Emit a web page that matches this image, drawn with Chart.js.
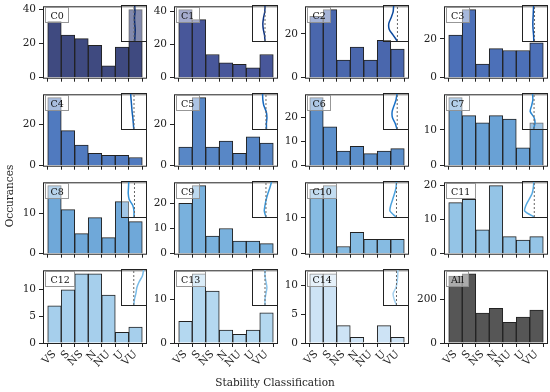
<!DOCTYPE html>
<html>
<head>
<meta charset="utf-8">
<script src="https://cdn.jsdelivr.net/npm/chart.js"></script>
<style>
  body { margin: 0; background: #fff; }
  #fig { position: relative; width: 550px; height: 392px; overflow: hidden; font-family: "DejaVu Serif", serif; color: #222; }
  .panel, .inset, .tag, .lab { position: absolute; }
  .inset { box-sizing: border-box; border: 1px solid #222; background: rgba(255,255,255,0.35); }
  .inset canvas { display: block; }
  .tag { font-size: 9.5px; line-height: 9px; padding: 2.5px 4.5px; background: rgba(255,255,255,0.5); border: 1px solid rgba(140,140,140,0.9); color: #111; }
  .lab { font-size: 10.5px; white-space: nowrap; transform: translate(-50%, -50%); }
</style>
</head>
<body>
<div id="fig"></div>
<script>
// histogram counts per cluster
const categories = ['VS', 'S', 'NS', 'N', 'NU', 'U', 'VU'];
const c0  = [33, 25, 23, 19, 7, 18, 40];
const c1  = [41, 35, 14, 9, 8, 6, 14];
const c2  = [28, 31, 8, 14, 8, 17, 13];
const c3  = [22, 35, 7, 15, 14, 14, 18];
const c4  = [33, 17, 10, 6, 5, 5, 4];
const c5  = [9, 33, 9, 12, 6, 14, 11];
const c6  = [28, 16, 6, 8, 5, 6, 7];
const c7  = [19, 14, 12, 14, 13, 5, 12];
const c8  = [17, 11, 5, 9, 4, 13, 8];
const c9  = [20, 27, 7, 10, 5, 5, 4];
const c10 = [18, 19, 2, 6, 4, 4, 4];
const c11 = [15, 16, 7, 20, 5, 4, 5];
const c12 = [7, 10, 13, 13, 9, 2, 3];
const c13 = [5, 16, 12, 3, 2, 3, 7];
const c14 = [12, 12, 3, 1, 0, 3, 1];
const all = [307, 318, 137, 159, 95, 119, 151];

// y tick values per panel
const yTicks = [[0,20,40],[0,20,40],[0,20],[0,20],[0,20],[0,20],[0,10,20],[0,10],
                [0,10],[0,10,20],[0,10],[0,10,20],[0,5,10],[0,10],[0,5,10],[0,200]];

// inset profiles: x position (0-1) at each level, top to bottom
const levels = [1, 0.83, 0.67, 0.5, 0.33, 0.17, 0];
const prof = [
  [0.53, 0.54, 0.52, 0.53, 0.55, 0.54, 0.53],
  [0.50, 0.49, 0.44, 0.41, 0.43, 0.48, 0.50],
  [0.40, 0.38, 0.30, 0.20, 0.22, 0.38, 0.55],
  [0.44, 0.43, 0.42, 0.41, 0.42, 0.44, 0.45],
  [0.36, 0.38, 0.40, 0.42, 0.45, 0.47, 0.49],
  [0.40, 0.41, 0.45, 0.55, 0.58, 0.56, 0.56],
  [0.54, 0.50, 0.42, 0.34, 0.35, 0.46, 0.54],
  [0.40, 0.41, 0.36, 0.30, 0.46, 0.50, 0.44],
  [0.28, 0.27, 0.26, 0.30, 0.45, 0.50, 0.50],
  [0.77, 0.70, 0.62, 0.55, 0.50, 0.47, 0.54],
  [0.52, 0.50, 0.44, 0.36, 0.28, 0.25, 0.50],
  [0.45, 0.43, 0.38, 0.25, 0.12, 0.07, 0.47],
  [0.90, 0.85, 0.72, 0.62, 0.58, 0.52, 0.49],
  [0.50, 0.50, 0.54, 0.58, 0.54, 0.50, 0.50],
  [0.58, 0.57, 0.55, 0.50, 0.38, 0.42, 0.52]
];
const refs = [0.5, 0.5, 0.56, 0.48, 0.5, 0.54, 0.55, 0.46, 0.52, 0.54, 0.52, 0.47, 0.49, 0.5, 0.52];

const names = ['C0','C1','C2','C3','C4','C5','C6','C7','C8','C9','C10','C11','C12','C13','C14','All'];
const counts = [c0, c1, c2, c3, c4, c5, c6, c7, c8, c9, c10, c11, c12, c13, c14, all];
const barColors = ['#3f4a80','#48579a','#4a67ad','#4c70b8','#507abf','#5887c6','#5b8fcb','#69a1d5',
                   '#6fa8d9','#79b1dd','#86bbe2','#94c4e6','#a6cfec','#b4d8f0','#cde3f5','#565656'];
const lineColors = ['#0b2a6e','#0d3484','#0c4a9e','#0e52aa','#1060b5','#1468bf','#1a72c8','#2a87d2',
                    '#3290d6','#3d99da','#4ba2de','#56a9e1','#78bbe8','#8ac4eb','#a3d0ef'];

Chart.defaults.font.family = 'DejaVu Serif';
Chart.defaults.color = '#222';

const fig = document.getElementById('fig');
const colL = [43, 173.5, 305, 443.5];
const rowT = [5, 93, 181, 269];
const W = 104, H = 74;

const frame = {
  id: 'frame',
  afterDatasetsDraw(ch) {
    const a = ch.chartArea, ctx = ch.ctx;
    ctx.save();
    ctx.strokeStyle = '#222';
    ctx.lineWidth = 1;
    ctx.strokeRect(a.left + 0.5, a.top + 0.5, a.width - 1, a.height);
    ctx.restore();
  }
};

names.forEach((name, i) => {
  const r = Math.floor(i / 4), c = i % 4;
  const L = colL[c], T = rowT[r];
  const bottom = r === 3;
  const xh = bottom ? 40 : 8;
  const vals = counts[i];

  const cv = document.createElement('canvas');
  cv.className = 'panel';
  const cw = W + 46, chh = H + 8 + xh;
  cv.width = cw; cv.height = chh;
  cv.style.width = cw + 'px'; cv.style.height = chh + 'px';
  cv.style.left = (L - 40) + 'px'; cv.style.top = (T - 8) + 'px';
  fig.appendChild(cv);

  new Chart(cv, {
    type: 'bar',
    data: {
      datasets: [{
        data: vals.map((v, k) => ({ x: k, y: v })),
        backgroundColor: barColors[i],
        borderColor: '#222',
        borderWidth: 1,
        barPercentage: 1,
        categoryPercentage: 1
      }]
    },
    options: {
      responsive: false,
      animation: false,
      events: [],
      layout: { padding: { top: 8, right: 6, left: 0, bottom: 0 } },
      plugins: { legend: { display: false }, tooltip: { enabled: false } },
      scales: {
        x: {
          type: 'linear', min: -0.85, max: 6.85, offset: false,
          afterBuildTicks: a => { a.ticks = categories.map((_, k) => ({ value: k })); },
          afterFit: a => { a.height = xh; },
          grid: { drawOnChartArea: false, tickLength: 4, color: '#222' },
          border: { display: false },
          ticks: {
            display: bottom, autoSkip: false, minRotation: 45, maxRotation: 45, padding: 1,
            font: { size: 10.5 }, callback: v => categories[v]
          }
        },
        y: {
          min: 0, max: Math.max(...vals) * 1.05,
          afterBuildTicks: a => { a.ticks = yTicks[i].map(v => ({ value: v })); },
          afterFit: a => { a.width = 40; },
          grid: { drawOnChartArea: false, tickLength: 4, color: '#222' },
          border: { display: false },
          ticks: { padding: 3, font: { size: 10.5 } }
        }
      }
    },
    plugins: [frame]
  });

  // inset profile
  if (i < 15) {
    const iw = W * 0.25, ih = H * 0.5;
    const box = document.createElement('div');
    box.className = 'inset';
    box.style.left = (L + W - iw) + 'px';
    box.style.top = T + 'px';
    box.style.width = iw + 'px';
    box.style.height = ih + 'px';
    const ic = document.createElement('canvas');
    ic.width = Math.round(iw - 2); ic.height = Math.round(ih - 2);
    ic.style.width = ic.width + 'px'; ic.style.height = ic.height + 'px';
    box.appendChild(ic);
    fig.appendChild(box);
    new Chart(ic, {
      type: 'scatter',
      data: {
        datasets: [
          { data: [{ x: refs[i], y: 0 }, { x: refs[i], y: 1 }], showLine: true, pointRadius: 0,
            borderColor: '#666', borderWidth: 1, borderDash: [2, 2] },
          { data: prof[i].map((x, k) => ({ x: x, y: levels[k] })), showLine: true, pointRadius: 0,
            borderColor: lineColors[i], borderWidth: 1.5, tension: 0.25 }
        ]
      },
      options: {
        responsive: false, animation: false, events: [],
        layout: { padding: 0 },
        plugins: { legend: { display: false }, tooltip: { enabled: false } },
        scales: {
          x: { display: false, min: 0, max: 1 },
          y: { display: false, min: 0, max: 1 }
        }
      }
    });
  }

  const tag = document.createElement('div');
  tag.className = 'tag';
  tag.textContent = name;
  tag.style.left = (L + 2) + 'px';
  tag.style.top = (T + 2) + 'px';
  fig.appendChild(tag);
});

const yl = document.createElement('div');
yl.className = 'lab';
yl.textContent = 'Occurances';
yl.style.left = '9px'; yl.style.top = '196px';
yl.style.transform = 'translate(-50%, -50%) rotate(-90deg)';
fig.appendChild(yl);

const xl = document.createElement('div');
xl.className = 'lab';
xl.textContent = 'Stability Classification';
xl.style.left = '275px'; xl.style.top = '382px';
fig.appendChild(xl);
</script>
</body>
</html>
